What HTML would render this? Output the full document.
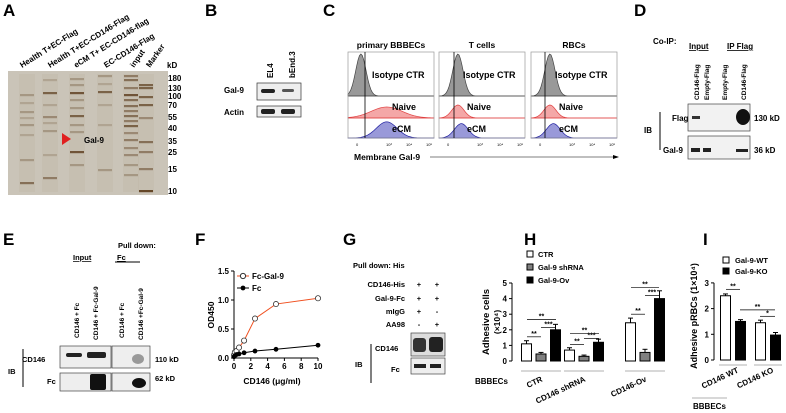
<!DOCTYPE html>
<html><head><meta charset="utf-8"><style>
body{margin:0;background:#fff}
svg{display:block;font-family:"Liberation Sans",Arial,sans-serif;font-weight:bold}
</style></head><body>
<svg id="s" width="786" height="413" viewBox="0 0 786 413" xmlns="http://www.w3.org/2000/svg">
<g font-size="17">
<text x="3" y="16">A</text><text x="205" y="16">B</text><text x="323" y="16">C</text><text x="634" y="16">D</text>
<text x="3" y="245">E</text><text x="195" y="245">F</text><text x="343" y="245">G</text><text x="524" y="245">H</text><text x="703" y="245">I</text>
</g>
<!-- Panel A -->
<g font-size="8">
<rect x="8" y="71" width="160" height="124" fill="#cac4b8"/>
<g id="bandsA"></g>
<text transform="translate(22,68) rotate(-32)">Health T+EC-Flag</text>
<text transform="translate(50,68) rotate(-32)">Health T+EC-CD146-Flag</text>
<text transform="translate(76,68) rotate(-32)">eCM T+ EC-CD146-flag</text>
<text transform="translate(106,68) rotate(-32)">EC-CD146-Flag</text>
<text transform="translate(134,68) rotate(-55)">input</text>
<text transform="translate(150,68) rotate(-55)">Marker</text>
<text x="167" y="68">kD</text>
<text x="168" y="81">180</text><text x="168" y="91">130</text><text x="168" y="99">100</text><text x="168" y="108">70</text><text x="168" y="120">55</text><text x="168" y="131">40</text><text x="168" y="144">35</text><text x="168" y="155">25</text><text x="168" y="172">15</text><text x="168" y="194">10</text>
<polygon points="62,133 62,145 71,139" fill="#e02020"/>
<text x="84" y="143">Gal-9</text>
</g>
<!-- Panel B -->
<g font-size="8">
<text transform="translate(273,78) rotate(-90)">EL4</text>
<text transform="translate(295,78) rotate(-90)">bEnd.3</text>
<text x="224" y="93">Gal-9</text><text x="224" y="115">Actin</text>
<rect x="257" y="83" width="44" height="17" fill="#eee" stroke="#333" stroke-width="0.7"/>
<rect x="261" y="89" width="14" height="4" fill="#222" rx="2"/><rect x="282" y="89" width="12" height="3" fill="#555" rx="1.5"/>
<rect x="257" y="106" width="44" height="11" fill="#eee" stroke="#333" stroke-width="0.7"/>
<rect x="261" y="109" width="14" height="5" fill="#222" rx="2"/><rect x="281" y="109" width="14" height="5" fill="#222" rx="2"/>
</g>
<!-- Panel C -->
<g id="panelC" font-size="8"></g>
<!-- Panel D -->
<g font-size="8">
<text x="653" y="44">Co-IP:</text>
<text x="689" y="49" text-decoration="underline">Input</text><text x="727" y="49" text-decoration="underline">IP Flag</text>
<text font-size="6.5" transform="translate(699,100) rotate(-90)">CD146-Flag</text>
<text font-size="6.5" transform="translate(709,100) rotate(-90)">Empty-Flag</text>
<text font-size="6.5" transform="translate(727,100) rotate(-90)">Empty-Flag</text>
<text font-size="6.5" transform="translate(746,100) rotate(-90)">CD146-Flag</text>
<rect x="688" y="104" width="62" height="27" fill="#f2f2f2" stroke="#444" stroke-width="0.7"/>
<rect x="692" y="116" width="8" height="3" fill="#333"/>
<ellipse cx="743" cy="117" rx="7" ry="8" fill="#111"/>
<rect x="688" y="136" width="62" height="23" fill="#f2f2f2" stroke="#444" stroke-width="0.7"/>
<rect x="691" y="148" width="9" height="4" fill="#222"/><rect x="703" y="148" width="8" height="4" fill="#222"/><rect x="736" y="149" width="12" height="3" fill="#222"/>
<text x="672" y="121">Flag</text><text x="663" y="153">Gal-9</text><text x="644" y="133">IB</text>
<line x1="660" y1="112" x2="660" y2="150" stroke="#000"/>
<text x="754" y="121">130 kD</text><text x="754" y="153">36 kD</text>
</g>
<!-- Panel E -->
<g font-size="7.5">
<text x="118" y="248">Pull down:</text>
<text x="73" y="260" text-decoration="underline">Input</text><text x="117" y="260" text-decoration="underline">Fc</text>
<line x1="115" y1="262" x2="140" y2="262" stroke="#000"/>
<text font-size="6.5" transform="translate(79,338) rotate(-90)">CD146 + Fc</text>
<text font-size="6.5" transform="translate(98,340) rotate(-90)">CD146 + Fc-Gal-9</text>
<text font-size="6.5" transform="translate(124,338) rotate(-90)">CD146 + Fc</text>
<text font-size="6.5" transform="translate(143,340) rotate(-90)">CD146 +Fc-Gal-9</text>
<rect x="60" y="346" width="51" height="22" fill="#eee" stroke="#444" stroke-width="0.7"/>
<rect x="112" y="346" width="38" height="22" fill="#eee" stroke="#444" stroke-width="0.7"/>
<rect x="66" y="353" width="16" height="4" fill="#222" rx="2"/><rect x="87" y="352" width="19" height="6" fill="#222" rx="2"/>
<ellipse cx="138" cy="359" rx="6" ry="5" fill="#999"/>
<rect x="60" y="373" width="51" height="18" fill="#eee" stroke="#444" stroke-width="0.7"/>
<rect x="112" y="373" width="38" height="18" fill="#eee" stroke="#444" stroke-width="0.7"/>
<rect x="90" y="374" width="16" height="16" fill="#111" rx="2"/><ellipse cx="139" cy="383" rx="7" ry="5" fill="#111"/>
<text x="22" y="362">CD146</text><text x="47" y="384">Fc</text><text x="8" y="374">IB</text>
<line x1="23" y1="349" x2="23" y2="387" stroke="#000"/>
<text x="155" y="362">110 kD</text><text x="155" y="381">62 kD</text>
</g>
<!-- Panel F -->
<g id="panelF" font-size="8"></g>
<!-- Panel G -->
<g font-size="7.5">
<text x="353" y="268">Pull down: His</text>
<g text-anchor="end"><text x="405" y="287">CD146-His</text><text x="405" y="301">Gal-9-Fc</text><text x="405" y="314">mIgG</text><text x="405" y="327">AA98</text></g>
<g text-anchor="middle"><text x="419" y="287">+</text><text x="437" y="287">+</text><text x="419" y="301">+</text><text x="437" y="301">+</text><text x="419" y="314">+</text><text x="437" y="314">-</text><text x="419" y="327">-</text><text x="437" y="327">+</text></g>
<rect x="411" y="333" width="34" height="23" fill="#ddd" stroke="#444" stroke-width="0.7"/>
<rect x="413" y="338" width="13" height="14" fill="#333" rx="3"/><rect x="429" y="337" width="14" height="15" fill="#222" rx="3"/>
<rect x="411" y="358" width="34" height="16" fill="#eee" stroke="#444" stroke-width="0.7"/>
<rect x="414" y="364" width="12" height="4" fill="#222"/><rect x="430" y="364" width="11" height="4" fill="#222"/>
<text x="375" y="351">CD146</text><text x="391" y="372">Fc</text><text x="355" y="367">IB</text>
<line x1="371" y1="344" x2="371" y2="383" stroke="#000"/>
</g>
<g id="panelH" font-size="7.5"></g>
<g id="panelI" font-size="7.5"></g>
</svg>
<script>
const NS="http://www.w3.org/2000/svg";
function mk(p,t,a,txt){const e=document.createElementNS(NS,t);for(const k in a)e.setAttribute(k,a[k]);if(txt!=null)e.textContent=txt;p.appendChild(e);return e;}

// Panel A bands (lane x center, y positions, darkness)
const laneA=[{x:27,b:[[95,.3],[103,.2],[112,.3],[118,.2],[125,.3],[135,.2],[160,.3],[183,.6]]},{x:50,b:[[80,.2],[93,.7],[105,.2],[117,.4],[123,.2],[131,.3],[155,.2],[178,.5]]},{x:77,b:[[79,.3],[85,.3],[93,.8],[100,.3],[108,.3],[116,.7],[125,.3],[132,.3],[152,.8],[165,.3]]},{x:105,b:[[76,.3],[84,.2],[92,.7],[105,.2],[125,.2],[170,.3]]},{x:131,b:[[76,.5],[80,.6],[88,.5],[95,.8],[100,.6],[106,.6],[111,.5],[116,.6],[121,.5],[126,.7],[133,.4],[140,.5],[148,.4],[155,.4],[165,.3],[175,.3]]},{x:146,b:[[85,.7],[88,.7],[97,.7],[105,.7],[118,.4],[142,.6],[152,.5],[169,.5],[191,.9]]}];
const gA=document.getElementById('bandsA');
laneA.forEach(l=>{
 const r=mk(gA,'rect',{x:l.x-8,y:74,width:16,height:118,fill:'#b5aa98',opacity:.18});
 
 
 l.b.forEach(b=>{const e=mk(gA,'rect',{x:l.x-7,y:b[0]-1,width:14,height:2.2,fill:'#5a3a1a',opacity:b[1]});
 
 });
});

// Panel C flow histograms: [center (axis units 0..1), width, height(0..1)]
const flowPanels=[{x:348,t:'primary BBBECs',vx:365},{x:439,t:'T cells',vx:454},{x:531,t:'RBCs',vx:545}];
const isoPk=[[0.15,0.06,1],[0.22,0.06,1],[0.22,0.06,1]];
const naivePk=[[0.45,0.18,0.55],[0.22,0.07,0.65],[0.22,0.07,0.65]];
const ecmPk=[[0.45,0.12,0.9],[0.26,0.08,0.8],[0.26,0.08,0.8]];
const gC=document.getElementById('panelC');
const W=86,rows=[[52,96,'#777','#444','Isotype CTR',78],[96,118,'#f08a8a','#e04040','Naive',110],[118,138,'#7777cc','#2020a0','eCM',132]];
flowPanels.forEach((p,i)=>{
 const t=mk(gC,'text',{x:p.x+W/2,y:48,'text-anchor':'middle','font-size':8.5},p.t);
 
 
 [isoPk,naivePk,ecmPk].forEach((pk,r)=>{
  const [y0,y1,fc,sc,lab,ly]=rows[r];const c=pk[i];let d=`M${p.x},${y1}`;
  for(let k=0;k<=60;k++){const u=k/60;const v=c[2]*Math.exp(-Math.pow((u-c[0])/c[1],2)/2);d+=` L${p.x+u*W},${y1-v*(y1-y0-2)}`;}
  d+=` L${p.x+W},${y1} Z`;
  const e=mk(gC,'path',{d:d,fill:fc,'fill-opacity':.75,stroke:sc,'stroke-width':.7});
  
  
  const tl=mk(gC,'text',{x:p.x+(r==0?24:(i==0?44:28)),y:ly,'font-size':9},lab);
  
  
  mk(gC,'line',{x1:p.x,y1:y1,x2:p.x+W,y2:y1,stroke:sc,'stroke-width':.6});
 });
 const b=mk(gC,'rect',{x:p.x,y:52,width:W,height:86,fill:'none',stroke:'#999','stroke-width':.7});
 
 
 mk(gC,'line',{x1:p.vx,y1:52,x2:p.vx,y2:138,stroke:'#000','stroke-width':.8});
 ['0','10³','10⁴','10⁵'].forEach((s,k)=>{mk(gC,'text',{x:p.x+8+[0,30,50,70][k],y:146,'font-size':4,'font-weight':'normal'},s);});
});
mk(gC,'text',{x:354,y:160,'font-size':8.5},'Membrane Gal-9');
mk(gC,'line',{x1:430,y1:157,x2:614,y2:157,stroke:'#000','stroke-width':.6});
mk(gC,'polygon',{points:'619,157 613,155 613,159',fill:'#000'});

// Panel F
const fX=[0,0.1,0.3,0.6,1.2,2.5,5,10];
const fGal=[0.05,0.1,0.12,0.18,0.3,0.68,0.93,1.03];
const fFc=[0.02,0.04,0.06,0.07,0.09,0.12,0.15,0.22];
const fXt=[0,2,4,6,8,10], fYt=[0,0.5,1.0,1.5], fYl=['0.0','0.5','1.0','1.5'];
const gF=document.getElementById('panelF');
const fx=v=>234+v*8.4, fy=v=>358-v*58;
mk(gF,'line',{x1:234,y1:271,x2:234,y2:358,stroke:'#000'});
mk(gF,'line',{x1:234,y1:358,x2:318,y2:358,stroke:'#000'});
fYt.forEach((v,i)=>{mk(gF,'line',{x1:231,y1:fy(v),x2:234,y2:fy(v),stroke:'#000'});const t=mk(gF,'text',{x:229,y:fy(v)+3,'text-anchor':'end'},fYl[i]);});
fXt.forEach(v=>{mk(gF,'line',{x1:fx(v),y1:358,x2:fx(v),y2:361,stroke:'#000'});const t=mk(gF,'text',{x:fx(v),y:369,'text-anchor':'middle'},v);});
mk(gF,'text',{x:272,y:384,'text-anchor':'middle','font-size':8.5},'CD146 (μg/ml)');
mk(gF,'text',{transform:'translate(214,315) rotate(-90)','text-anchor':'middle','font-size':8.5},'OD450');
const l1=mk(gF,'polyline',{points:fX.map((x,i)=>fx(x)+','+fy(fGal[i])).join(' '),fill:'none',stroke:'#f05020','stroke-width':1});


const l2=mk(gF,'polyline',{points:fX.map((x,i)=>fx(x)+','+fy(fFc[i])).join(' '),fill:'none',stroke:'#000','stroke-width':1});


fX.forEach((x,i)=>{
 const a=mk(gF,'circle',{cx:fx(x),cy:fy(fGal[i]),r:2.6,fill:'#fff',stroke:'#333','stroke-width':.8});
 
 
 const b=mk(gF,'circle',{cx:fx(x),cy:fy(fFc[i]),r:2.4,fill:'#000'});
 
 
});
mk(gF,'line',{x1:237,y1:276,x2:249,y2:276,stroke:'#f05020'});mk(gF,'circle',{cx:243,cy:276,r:2.6,fill:'#fff',stroke:'#333'});
mk(gF,'text',{x:252,y:279},'Fc-Gal-9');
mk(gF,'line',{x1:237,y1:288,x2:249,y2:288,stroke:'#000'});mk(gF,'circle',{cx:243,cy:288,r:2.4,fill:'#000'});
mk(gF,'text',{x:252,y:291},'Fc');

// Panel H
const hCats=['CTR','CD146 shRNA','CD146-Ov'];
const hSeries=['CTR','Gal-9 shRNA','Gal-9-Ov'];
const hVals=[[1.1,0.7,2.45],[0.45,0.3,0.55],[2.0,1.2,4.0]];
const hErr=[[0.2,0.15,0.3],[0.1,0.08,0.2],[0.35,0.2,0.5]];
const hTicks=[0,1,2,3,4,5];
const gH=document.getElementById('panelH');
const hy=v=>361-v*15.6, hCx=[541,584,645], fills=['#fff','#808080','#000'];
mk(gH,'line',{x1:512,y1:hy(5),x2:512,y2:361,stroke:'#000'});
hTicks.forEach(v=>{mk(gH,'line',{x1:509,y1:hy(v),x2:512,y2:hy(v),stroke:'#000'});mk(gH,'text',{x:507,y:hy(v)+3,'text-anchor':'end','font-size':8},v);});
hCats.forEach((c,g)=>{
 hSeries.forEach((s,k)=>{const x=hCx[g]+(k-1)*14.5, v=hVals[k][g], e=hErr[k][g];
  mk(gH,'line',{x1:x,y1:hy(v+e),x2:x,y2:hy(v),stroke:'#000'});mk(gH,'line',{x1:x-2.5,y1:hy(v+e),x2:x+2.5,y2:hy(v+e),stroke:'#000'});
  const r=mk(gH,'rect',{x:x-5,y:hy(v),width:10,height:v*15.6,fill:fills[k],stroke:'#000','stroke-width':1});
  
  
 });
 mk(gH,'line',{x1:hCx[g]-20,y1:371,x2:hCx[g]+20,y2:371,stroke:'#666','stroke-width':.6});
 const t=mk(gH,'text',{transform:`translate(${hCx[g]+2},${381}) rotate(-25)`,'text-anchor':'end','font-size':8},c);
 
 
});
mk(gH,'text',{x:475,y:384,'font-size':8},'BBBECs');
mk(gH,'text',{transform:'translate(489,322) rotate(-90)','text-anchor':'middle','font-size':9.5},'Adhesive cells');
mk(gH,'text',{transform:'translate(500,322) rotate(-90)','text-anchor':'middle','font-size':8.5},'(×10⁴)');
hSeries.forEach((s,k)=>{mk(gH,'rect',{x:527,y:251+k*13,width:6,height:6,fill:fills[k],stroke:'#000'});mk(gH,'text',{x:538,y:257+k*13},s);});
[[527,556,hy(2.65),'**'],[527,541,hy(1.55),'**'],[541,556,hy(2.15),'***'],[570,599,hy(1.75),'**'],[570,584,hy(1.05),'**'],[584,599,hy(1.45),'***'],[631,659,hy(4.7),'**'],[631,645,hy(3.0),'**'],[645,659,hy(4.2),'***']].forEach(a=>{mk(gH,'line',{x1:a[0],y1:a[2],x2:a[1],y2:a[2],stroke:'#000','stroke-width':.7});mk(gH,'text',{x:(a[0]+a[1])/2,y:a[2]-1,'text-anchor':'middle','font-size':7},a[3]);});

// Panel I
const iCats=['CD146 WT','CD146 KO'];
const iSeries=['Gal-9-WT','Gal-9-KO'];
const iVals=[[2.5,1.45],[1.5,0.97]];
const iErr=[[0.07,0.1],[0.07,0.1]];
const iTicks=[0,1,2,3];
const gI=document.getElementById('panelI');
const iy=v=>360-v*25.7, iCx=[733,768];
mk(gI,'line',{x1:714,y1:iy(3),x2:714,y2:360,stroke:'#000'});
iTicks.forEach(v=>{mk(gI,'line',{x1:711,y1:iy(v),x2:714,y2:iy(v),stroke:'#000'});mk(gI,'text',{x:709,y:iy(v)+3,'text-anchor':'end','font-size':8},v);});
iCats.forEach((c,g)=>{
 iSeries.forEach((s,k)=>{const x=iCx[g]+(k?7.5:-7.5), v=iVals[k][g], e=iErr[k][g];
  mk(gI,'line',{x1:x,y1:iy(v+e),x2:x,y2:iy(v),stroke:'#000'});mk(gI,'line',{x1:x-2.5,y1:iy(v+e),x2:x+2.5,y2:iy(v+e),stroke:'#000'});
  const r=mk(gI,'rect',{x:x-5,y:iy(v),width:10,height:v*25.7,fill:k?'#000':'#fff',stroke:'#000'});
  
  
 });
 mk(gI,'line',{x1:iCx[g]-14,y1:365,x2:iCx[g]+14,y2:365,stroke:'#666','stroke-width':.6});
 const t=mk(gI,'text',{transform:`translate(${iCx[g]+6},${372}) rotate(-25)`,'text-anchor':'end','font-size':8},c);
 
 
});
mk(gI,'line',{x1:692,y1:398,x2:727,y2:398,stroke:'#666','stroke-width':.6});
mk(gI,'text',{x:693,y:409,'font-size':8},'BBBECs');
mk(gI,'text',{transform:'translate(697,316) rotate(-90)','text-anchor':'middle','font-size':9},'Adhesive pRBCs (1×10⁴)');
iSeries.forEach((s,k)=>{mk(gI,'rect',{x:723,y:257+k*11,width:6,height:6,fill:k?'#000':'#fff',stroke:'#000'});mk(gI,'text',{x:735,y:263+k*11},s);});
[[726,740,iy(2.75),'**'],[740,775,iy(1.95),'**'],[760,775,iy(1.7),'*']].forEach(a=>{mk(gI,'line',{x1:a[0],y1:a[2],x2:a[1],y2:a[2],stroke:'#000','stroke-width':.7});mk(gI,'text',{x:(a[0]+a[1])/2,y:a[2]-1,'text-anchor':'middle','font-size':7},a[3]);});
</script>
</body></html>
